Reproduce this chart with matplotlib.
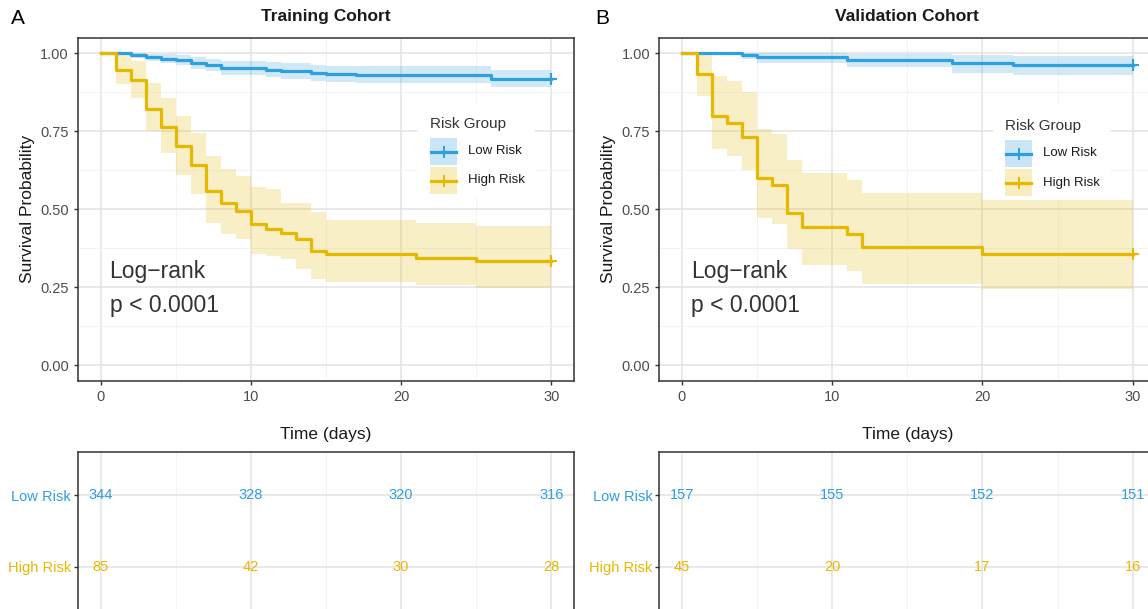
import matplotlib
matplotlib.use("Agg")
import matplotlib.pyplot as plt
from matplotlib.patches import Rectangle
from matplotlib.lines import Line2D
from matplotlib.ticker import MultipleLocator

plt.rcParams['font.family'] = ['Liberation Sans', 'DejaVu Sans']

BLUE = '#2E9FDF'
YELLOW = '#E7B800'

# ---------------- data ----------------
# Training cohort
tr_low_t = [0, 2, 3, 4, 5, 6, 7, 8, 11, 12, 14, 15, 17, 26]
tr_low_s = [1.0, 0.994, 0.988, 0.983, 0.977, 0.968, 0.962, 0.953, 0.948, 0.942, 0.936, 0.933, 0.930, 0.919]
tr_low_lo = [1.0, 0.986, 0.976, 0.970, 0.962, 0.950, 0.943, 0.931, 0.925, 0.918, 0.911, 0.907, 0.904, 0.891]
tr_low_hi = [1.0, 1.0, 0.999, 0.997, 0.993, 0.987, 0.982, 0.976, 0.972, 0.968, 0.963, 0.960, 0.958, 0.948]

tr_high_t = [0, 1, 2, 3, 4, 5, 6, 7, 8, 9, 10, 11, 12, 13, 14, 15, 21, 25]
tr_high_s = [1.0, 0.946, 0.913, 0.821, 0.763, 0.702, 0.641, 0.557, 0.520, 0.493, 0.454, 0.437,
             0.424, 0.403, 0.366, 0.356, 0.345, 0.334]
tr_high_lo = [1.0, 0.900, 0.857, 0.750, 0.680, 0.610, 0.550, 0.456, 0.420, 0.405, 0.355, 0.350,
              0.340, 0.308, 0.276, 0.266, 0.257, 0.247]
tr_high_hi = [1.0, 0.995, 0.975, 0.905, 0.858, 0.800, 0.745, 0.670, 0.630, 0.605, 0.570, 0.566,
              0.520, 0.520, 0.490, 0.465, 0.455, 0.445]

# Validation cohort
va_low_t = [0, 4, 5, 11, 18, 22]
va_low_s = [1.0, 0.994, 0.987, 0.978, 0.968, 0.962]
va_low_lo = [1.0, 0.981, 0.969, 0.955, 0.938, 0.931]
va_low_hi = [1.0, 1.0, 1.0, 0.999, 0.994, 0.990]

va_high_t = [0, 1, 2, 3, 4, 5, 6, 7, 8, 11, 12, 20]
va_high_s = [1.0, 0.933, 0.800, 0.778, 0.733, 0.600, 0.578, 0.489, 0.444, 0.422, 0.378, 0.356]
va_high_lo = [1.0, 0.864, 0.694, 0.671, 0.627, 0.472, 0.451, 0.371, 0.321, 0.302, 0.260, 0.244]
va_high_hi = [1.0, 1.0, 0.927, 0.910, 0.876, 0.758, 0.742, 0.657, 0.615, 0.595, 0.551, 0.528]

end_time = 30

# Number at risk tables
risk_times = [0, 10, 20, 30]
tr_risk_low = [344, 328, 320, 316]
tr_risk_high = [85, 42, 30, 28]
va_risk_low = [157, 155, 152, 151]
va_risk_high = [45, 20, 17, 16]

group_names = ['Low Risk', 'High Risk']
panel_titles = ['Training Cohort', 'Validation Cohort']
panel_letters = ['A', 'B']

# ---------------- figure ----------------
W, H = 1148, 609
fig = plt.figure(figsize=(W / 100, H / 100), dpi=100)


def fx(px):
    return px / W


def fy(py):
    return 1 - py / H


AX_L = [78.0, 659.3]
AX_R_OFF = 496.0
AX_T, AX_B = 37.7, 380.7
main_w = fx(AX_R_OFF)
main_bottom = fy(AX_B)
main_h = fy(AX_T) - fy(AX_B)
tab_bottom = fy(610)
tab_h = fy(452) - fy(610)

GRID_MAJ = '#E3E3E3'
GRID_MIN = '#F1F1F1'
BORDER = '#333333'
TICKTXT = '#4D4D4D'


def style_axes(ax):
    for sp in ax.spines.values():
        sp.set_color(BORDER)
        sp.set_linewidth(1.1)
    ax.tick_params(axis='both', which='major', direction='out', length=3, width=1,
                   color=BORDER, labelsize=10.5, labelcolor=TICKTXT, pad=3.5)
    ax.tick_params(axis='both', which='minor', length=0)
    ax.grid(True, which='major', color=GRID_MAJ, lw=1.1, zorder=0)
    ax.grid(True, which='minor', color=GRID_MIN, lw=0.6, zorder=0)
    ax.set_axisbelow(True)


def km(ax, t, s, lo, hi, color):
    tt = list(t) + [end_time]
    ss = list(s) + [s[-1]]
    ll = list(lo) + [lo[-1]]
    hh = list(hi) + [hi[-1]]
    ax.fill_between(tt, ll, hh, step='post', color=color, alpha=0.22, lw=0, zorder=2)
    ax.step(tt, ss, where='post', color=color, lw=2.3, zorder=3)
    ax.plot([end_time], [ss[-1]], marker='+', color=color, ms=9, mew=1.5, ls='none', zorder=4)


def draw_legend(ax, left_px, key_left_px, top_key_px):
    """Manual ggplot-like legend; positions given in figure pixels."""
    ax_left = left_px

    def ax_x(px):
        return (px - ax_left) / AX_R_OFF

    def ax_y(py):
        return (AX_B - py) / (AX_B - AX_T)

    tr = ax.transAxes
    box_l, box_r = key_left_px - 12, key_left_px + 105
    box_t, box_b = top_key_px - 35, top_key_px + 59
    ax.add_patch(Rectangle((ax_x(box_l), ax_y(box_b)), ax_x(box_r) - ax_x(box_l),
                           ax_y(box_t) - ax_y(box_b), transform=tr, facecolor='white',
                           edgecolor='none', zorder=6))
    ax.text(ax_x(key_left_px), ax_y(top_key_px - 14), 'Risk Group', transform=tr,
            fontsize=11, color='#333333', ha='left', va='center', zorder=7)
    for k, (name, col) in enumerate(zip(group_names, [BLUE, YELLOW])):
        kt = top_key_px + k * 29
        ax.add_patch(Rectangle((ax_x(key_left_px), ax_y(kt + 27)), ax_x(key_left_px + 27) - ax_x(key_left_px),
                               ax_y(kt) - ax_y(kt + 27), transform=tr, facecolor=col, alpha=0.25,
                               edgecolor='none', zorder=7))
        yc = ax_y(kt + 13.5)
        ax.add_line(Line2D([ax_x(key_left_px + 1), ax_x(key_left_px + 26)], [yc, yc], transform=tr,
                           color=col, lw=2.3, zorder=8))
        ax.add_line(Line2D([ax_x(key_left_px + 13.5)], [yc], transform=tr, color=col, marker='+',
                           ms=8, mew=1.4, ls='none', zorder=8))
        ax.text(ax_x(key_left_px + 38), yc, name, transform=tr, fontsize=9.5, color='#1A1A1A',
                ha='left', va='center', zorder=8)


datasets = [
    (tr_low_t, tr_low_s, tr_low_lo, tr_low_hi, tr_high_t, tr_high_s, tr_high_lo, tr_high_hi,
     tr_risk_low, tr_risk_high),
    (va_low_t, va_low_s, va_low_lo, va_low_hi, va_high_t, va_high_s, va_high_lo, va_high_hi,
     va_risk_low, va_risk_high),
]
legend_keys = [(430, 138), (1005, 140)]
letter_x = [18, 602]

for i, d in enumerate(datasets):
    lt, ls_, llo, lhi, ht, hs, hlo, hhi, rl, rh = d
    ax = fig.add_axes([fx(AX_L[i]), main_bottom, main_w, main_h])
    style_axes(ax)
    km(ax, lt, ls_, llo, lhi, BLUE)
    km(ax, ht, hs, hlo, hhi, YELLOW)
    ax.set_xlim(-1.5, 31.5)
    ax.set_ylim(-0.05, 1.05)
    ax.xaxis.set_major_locator(MultipleLocator(10))
    ax.xaxis.set_minor_locator(MultipleLocator(5))
    ax.yaxis.set_major_locator(MultipleLocator(0.25))
    ax.yaxis.set_minor_locator(MultipleLocator(0.125))
    ax.set_yticks([0, 0.25, 0.5, 0.75, 1.0])
    ax.set_yticklabels(['0.00', '0.25', '0.50', '0.75', '1.00'])
    ax.set_ylabel('Survival Probability', fontsize=12.5, color='#1A1A1A', labelpad=4)
    ax.set_xlabel('Time (days)', fontsize=12.5, color='#1A1A1A', labelpad=17)
    ax.set_title(panel_titles[i], fontsize=12.5, fontweight='bold', color='#1A1A1A', pad=12)
    ax.text(0.6, 0.245, 'Log\u2212rank\np < 0.0001', fontsize=16.5, color='#333333',
            ha='left', va='center', linespacing=1.6, zorder=5)
    draw_legend(ax, AX_L[i], legend_keys[i][0], legend_keys[i][1])

    fig.text(fx(letter_x[i]), fy(19), panel_letters[i],
             fontsize=15, ha='center', va='center', color='black')

    # risk table
    tx = fig.add_axes([fx(AX_L[i]), tab_bottom, main_w, tab_h])
    style_axes(tx)
    tx.set_xlim(-1.5, 31.5)
    tx.set_ylim(0.4, 2.6)
    tx.xaxis.set_major_locator(MultipleLocator(10))
    tx.xaxis.set_minor_locator(MultipleLocator(5))
    tx.set_xticklabels([])
    tx.tick_params(axis='x', which='major', length=0)
    tx.set_yticks([2, 1])
    tx.set_yticklabels(group_names, fontsize=10.5)
    tx.tick_params(axis='y', pad=2)
    for lab, col in zip(tx.get_yticklabels(), [BLUE, YELLOW]):
        lab.set_color(col)
    for row_y, vals, col in [(2, rl, BLUE), (1, rh, YELLOW)]:
        for t, v in zip(risk_times, vals):
            tx.text(t, row_y, str(v), ha='center', va='center', fontsize=10.5, color=col)

fig.savefig('out.png', dpi=100)
